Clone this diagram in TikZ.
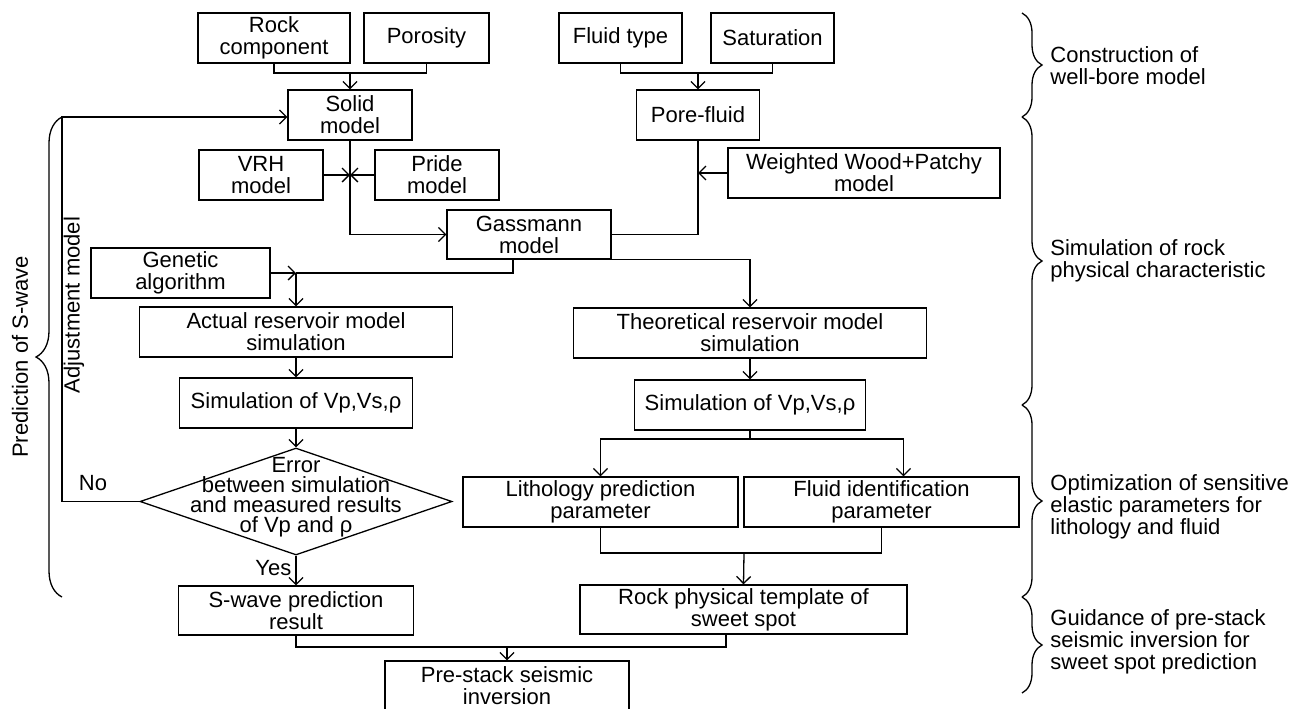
\documentclass[tikz,border=0pt]{standalone}
\usepackage{fontspec}
\setmainfont{Liberation Sans}
\usetikzlibrary{arrows.meta,shapes.geometric,decorations.pathreplacing}
\begin{document}
\begin{tikzpicture}[x=0.5pt,y=-0.5pt,
  font=\fontsize{11}{11}\selectfont,
  box/.style={draw, line width=0.65pt, align=center, inner sep=0pt},
  conn/.style={line width=0.65pt},
  arr/.style={conn, -{Straight Barb[length=3.5pt,width=7pt]}},
  brc/.style={conn, decorate, decoration={brace, amplitude=#1}},
  lbl/.style={align=left, anchor=west, inner sep=0pt}]
\useasboundingbox (0,0) rectangle (1294,708);

% boxes
\node[box, minimum width=76pt,   minimum height=25pt]   (rc)    at (274,38)    {Rock\\component};
\node[box, minimum width=62.5pt, minimum height=25pt]   (por)   at (426.5,38)  {Porosity};
\node[box, minimum width=61.5pt, minimum height=25pt]   (ft)    at (620.5,38)  {Fluid type};
\node[box, minimum width=61.5pt, minimum height=25pt]   (sat)   at (772.5,38)  {Saturation};
\node[box, minimum width=62pt,   minimum height=25pt]   (solid) at (350,115)   {Solid\\model};
\node[box, minimum width=61.5pt, minimum height=25pt]   (pore)  at (698,115)   {Pore-fluid};
\node[box, minimum width=62pt,   minimum height=25pt]   (vrh)   at (261,175)   {VRH\\model};
\node[box, minimum width=62pt,   minimum height=25pt]   (pride) at (437,175)   {Pride\\model};
\node[box, minimum width=136pt,  minimum height=25pt]   (wood)  at (864,173)   {Weighted Wood+Patchy\\model};
\node[box, minimum width=82pt,   minimum height=24.5pt] (gass)  at (529,234.5) {Gassmann\\model};
\node[box, minimum width=89.5pt, minimum height=25pt]   (gen)   at (180.5,273) {Genetic\\algorithm};
\node[box, minimum width=156.5pt,minimum height=25pt]   (act)   at (296,332)   {Actual reservoir model\\simulation};
\node[box, minimum width=176.5pt,minimum height=25pt]   (theo)  at (750,333)   {Theoretical reservoir model\\simulation};
\node[box, minimum width=116.5pt,minimum height=25pt]   (simL)  at (296,403)   {Simulation of Vp,Vs,ρ};
\node[box, minimum width=115.5pt,minimum height=25pt]   (simR)  at (750,405)   {Simulation of Vp,Vs,ρ};
\node[draw, diamond, line width=0.65pt, inner sep=0pt, minimum width=156pt, minimum height=53.5pt] (dia) at (296,501.5) {};
\node[align=center, inner sep=0pt, font=\fontsize{11}{10}\selectfont] (dtxt) at (296,497) {Error\\between simulation\\and measured results\\of Vp and ρ};
\node[box, minimum width=137.5pt,minimum height=25pt]   (lith)  at (600.5,502) {Lithology prediction\\parameter};
\node[box, minimum width=137.5pt,minimum height=25pt]   (fid)   at (881.5,502) {Fluid identification\\parameter};
\node[box, minimum width=117.5pt,minimum height=24.5pt] (sw)    at (296,610.5) {S-wave prediction\\result};
\node[box, minimum width=163.5pt,minimum height=24.5pt] (rpt)   at (743.5,609.5) {Rock physical template of\\sweet spot};
\node[box, minimum width=122pt,  minimum height=25pt]   (pre)   at (507,686)   {Pre-stack seismic\\inversion};

% junction coordinates
\coordinate (j1) at (350,73);
\coordinate (j2) at (698,73);
\coordinate (j3) at (350,175);
\coordinate (j4) at (698,173);
\coordinate (j5) at (296,273);
\coordinate (j6) at (750,439);
\coordinate (j7) at (744,553);
\coordinate (j8) at (507,647);
\coordinate (adj) at (62,117);

% connectors
\draw[conn] (rc.south) |- (j1) -| (por.south);
\draw[arr] (j1) -- (solid.north);
\draw[conn] (ft.south) |- (j2) -| (sat.south);
\draw[arr] (j2) -- (pore.north);
\draw[arr] (vrh.east) -- (j3);
\draw[arr] (pride.west) -- (j3);
\draw[arr] (solid.south) |- (gass.west);
\draw[arr] (wood.west) -- (j4);
\draw[conn] (pore.south) |- (gass.east);
\draw[arr] (gen.east) -- (j5);
\draw[conn] ([xshift=-8pt]gass.south) |- (j5);
\draw[arr] (j5) -- (act.north);
\draw[arr] ([xshift=4.5pt]gass.south) -| (theo.north);
\draw[arr] (act.south) -- (simL.north);
\draw[arr] (simL.south) -- (dia.north);
\draw[arr] (theo.south) -- (simR.north);
\draw[conn] (simR.south) -- (j6);
\draw[arr] (j6) -| (lith.north);
\draw[arr] (j6) -| ([xshift=11pt]fid.north);
\draw[conn] (lith.south) |- (j7) -| (fid.south);
\draw[arr] (j7) -- (rpt.north);
\draw[arr] (dia.south) -- node[left, inner sep=2pt, pos=0.4] (yes) {Yes} (sw.north);
\draw[conn] (sw.south) |- (j8);
\draw[conn] ([xshift=-8.75pt]rpt.south) |- (j8);
\draw[arr] (j8) -- (pre.north);
\draw[arr] (dia.west) -| (adj) -- (adj -| solid.west);
\node (no) at (93,483) {No};
\node[rotate=90] (adjl) at (74,305) {Adjustment model};

% left brace
\draw[brc=13pt] (62,597) -- (62,117);
\node[rotate=90] (pred) at (20,357) {Prediction of S-wave};

% right braces
\draw[brc=10pt] (1022,13) -- (1022,117);
\draw[brc=10pt] (1022,117) -- (1022,405);
\draw[brc=10pt] (1022,405) -- (1022,597);
\draw[brc=10pt] (1022,597) -- (1022,693);
\node[lbl] (l1) at (1050,66)  {Construction of\\well-bore model};
\node[lbl] (l2) at (1050,261) {Simulation of rock\\physical characteristic};
\node[lbl] (l3) at (1050,507) {Optimization of sensitive\\elastic parameters for\\lithology and fluid};
\node[lbl] (l4) at (1050,642) {Guidance of pre-stack\\seismic inversion for\\sweet spot prediction};
\end{tikzpicture}
\end{document}
